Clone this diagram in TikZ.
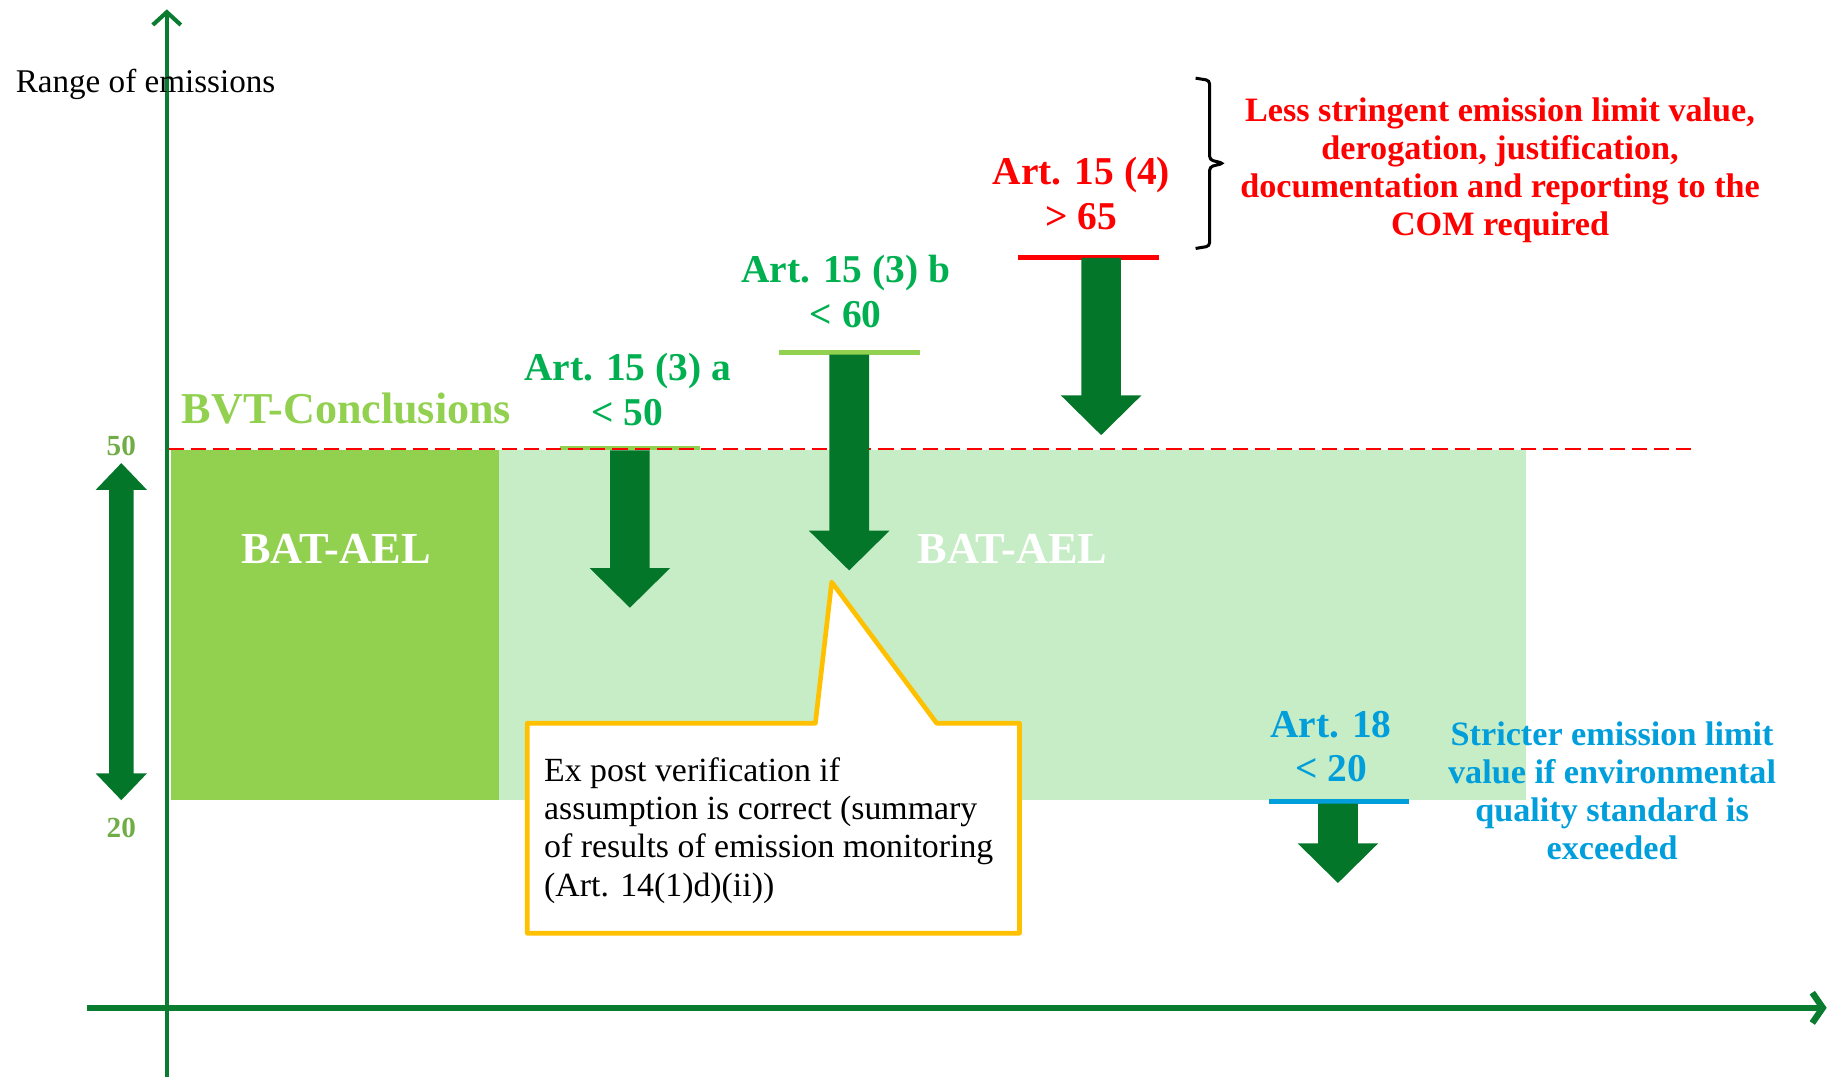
\documentclass[tikz,border=0pt]{standalone}
\usepackage{fontspec}
\setmainfont{Liberation Serif}
\usetikzlibrary{arrows.meta}

\definecolor{axisgreen}{RGB}{10,124,48}
\definecolor{arrowgreen}{RGB}{3,118,41}
\definecolor{bvtgreen}{RGB}{146,208,80}
\definecolor{palegreen}{RGB}{198,237,198}
\definecolor{artgreen}{RGB}{0,176,80}
\definecolor{numgreen}{RGB}{112,173,71}
\definecolor{limitblue}{RGB}{0,158,219}
\definecolor{calloutyellow}{RGB}{255,192,0}

\tikzset{
  artlabel/.style={align=center, font=\fontsize{33.8}{38}\selectfont\bfseries},
  notelabel/.style={align=center, font=\fontsize{29.3}{32.7}\selectfont\bfseries},
  batlabel/.style={white, font=\fontsize{38}{40}\selectfont\bfseries},
  numlabel/.style={numgreen, font=\fontsize{25}{26}\selectfont\bfseries},
  limitbar/.style={line width=4pt},
  blockarrow/.style={fill=arrowgreen}
}

\begin{document}
\begin{tikzpicture}[x=1pt, y=-1pt]
        \useasboundingbox (0,0) rectangle (1568,923);

        \fill [palegreen] (428,386) rectangle (1308,686);
        \fill [bvtgreen] (147,386) rectangle (428,686);

        \coordinate (ytop) at (143,8);
        \coordinate (ybot) at (143,923);
        \coordinate (xleft) at (75,864);
        \coordinate (xright) at (1566,864);
        \draw [axisgreen, line width=3.5pt, -{Straight Barb[length=11pt, width=24pt]}] (ybot) -- (ytop);
        \draw [axisgreen, line width=5.5pt, -{Straight Barb[length=9pt, width=26pt]}] (xleft) -- (xright);

        \draw [limitbar, bvtgreen] (480,384) -- (600,384);
        \draw [limitbar, bvtgreen] (668,302) -- (789,302);
        \draw [limitbar, red] (873,221) -- (994,221);
        \draw [limitbar, limitblue] (1088,687) -- (1208,687);

        \draw [red, line width=2.2pt, dash pattern=on 13pt off 6pt] (145,385) -- (1450,385);

        \fill [blockarrow] (104,397) -- (126,420) -- (114.5,420) -- (114.5,663) -- (126,663) -- (104,686) -- (82,663) -- (93.5,663) -- (93.5,420) -- (82,420) -- cycle;
        \fill [blockarrow] (523,386) -- (557,386) -- (557,487) -- (574.5,487) -- (540,521) -- (505.5,487) -- (523,487) -- cycle;
        \fill [blockarrow] (711,304) -- (745,304) -- (745,455) -- (762.5,455) -- (728,489) -- (693.5,455) -- (711,455) -- cycle;
        \fill [blockarrow] (927,221) -- (961,221) -- (961,339) -- (978.5,339) -- (944,373) -- (909.5,339) -- (927,339) -- cycle;
        \fill [blockarrow] (1130,689) -- (1164,689) -- (1164,723) -- (1181.5,723) -- (1147,757) -- (1112.5,723) -- (1130,723) -- cycle;

        \draw [black, line width=2.6pt, rounded corners=3pt] (1025,67) -- (1037,69) -- (1037,137) -- (1049,140) -- (1037,143) -- (1037,211) -- (1025,213);

        \draw [calloutyellow, line width=4pt, fill=white, line join=round] (452,620) -- (699,620) -- (713,499) -- (803,620) -- (874,620) -- (874,800) -- (452,800) -- cycle;

        \node [anchor=west, font=\fontsize{28.4}{30}\selectfont] (range) at (10,72) {Range of emissions};
        \node [bvtgreen, font=\fontsize{37.8}{40}\selectfont\bfseries] (bvt) at (297,350) {BVT-Conclusions};
        \node [numlabel] (top50) at (104,382) {50};
        \node [numlabel] (bot20) at (104,710) {20};
        \node [batlabel] (batleft) at (288,471) {BAT-AEL};
        \node [batlabel] (batright) at (868,471) {BAT-AEL};

        \node [artlabel, artgreen] (arta) at (538,334) {Art. 15 (3) a\\< 50};
        \node [artlabel, artgreen] (artb) at (725,250) {Art. 15 (3) b\\< 60};
        \node [artlabel, red] (artfour) at (927,166) {Art. 15 (4)\\> 65};
        \node [artlabel, limitblue] (arteighteen) at (1141,640) {Art. 18\\< 20};

        \node [notelabel, red] (lessnote) at (1286,146) {Less stringent emission limit value,\\derogation, justification,\\documentation and reporting to the\\COM required};
        \node [notelabel, limitblue] (stricternote) at (1382,678) {Stricter emission limit\\value if environmental\\quality standard is\\exceeded};

        \node [anchor=west, align=left, font=\fontsize{29}{32.7}\selectfont] (verify) at (463,712) {Ex post verification if\\assumption is correct (summary\\of results of emission monitoring\\(Art. 14(1)d)(ii))};
    \end{tikzpicture}
\end{document}
